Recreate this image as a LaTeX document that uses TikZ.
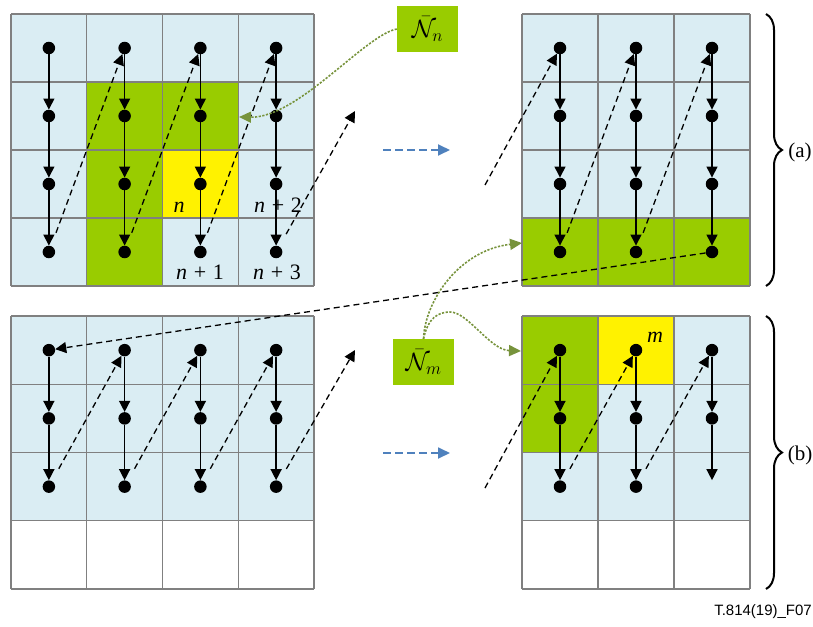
\RequirePackage{fix-cm}
\documentclass[tikz,border=0pt]{standalone}
\usepackage{fontspec}
\setmainfont{Liberation Serif}
\newfontfamily\capfont{Liberation Sans}
\usetikzlibrary{arrows.meta,decorations.pathreplacing}
\definecolor{lblue}{RGB}{218,237,243}
\definecolor{lgreen}{RGB}{153,204,0}
\definecolor{olivegr}{RGB}{119,147,60}
\definecolor{dblue}{RGB}{79,129,189}
\definecolor{gridgray}{RGB}{128,128,128}
\begin{document}
\begin{tikzpicture}[x=1pt,y=-1pt,
  gridline/.style={draw=gridgray,line width=1.3pt},
  dotnode/.style={circle,fill=black,minimum size=12.5pt,inner sep=0pt},
  ghostnode/.style={circle,minimum size=12.5pt,inner sep=0pt},
  solidarr/.style={line width=1.4pt,-{Triangle[width=11pt,length=11pt]}},
  dasharr/.style={line width=1.3pt,dash pattern=on 6pt off 4pt,-{Triangle[width=11pt,length=11pt]}},
  greenarr/.style={draw=olivegr,line width=1.6pt,dash pattern=on 2.2pt off 1.5pt,-{Triangle[width=11pt,length=12pt,fill=olivegr]}},
  bluearr/.style={draw=dblue,line width=1.8pt,dash pattern=on 8pt off 4pt,-{Triangle[width=11pt,length=12pt,fill=dblue]}},
  nbox/.style={fill=lgreen,minimum width=61pt,minimum height=46pt,inner sep=0pt,font=\fontsize{25}{30}\selectfont},
  lbl/.style={font=\fontsize{22}{26}\selectfont,inner sep=0pt},
  side/.style={font=\fontsize{21}{25}\selectfont,inner sep=0pt},
  bracestyle/.style={decorate,decoration={brace,amplitude=16pt},line width=2pt}
]
\useasboundingbox (0,0) rectangle (813,626);

% ---------- top-left grid ----------
\fill[lblue] (11,14) rectangle (314,286);
\fill[lgreen] (86.75,82) rectangle (162.5,286);
\fill[lgreen] (162.5,82) rectangle (238.25,150);
\fill[yellow] (162.5,150) rectangle (238.25,218);
\foreach \i in {0,...,4} \draw[gridline] ({11+75.75*\i},14) -- ({11+75.75*\i},286);
\foreach \j in {0,...,4} \draw[gridline] (11,{14+68*\j}) -- (314,{14+68*\j});

% ---------- top-right grid ----------
\fill[lblue] (522,14) rectangle (750,218);
\fill[lgreen] (522,218) rectangle (750,286);
\foreach \i in {0,...,3} \draw[gridline] ({522+76*\i},14) -- ({522+76*\i},286);
\foreach \j in {0,...,4} \draw[gridline] (522,{14+68*\j}) -- (750,{14+68*\j});

% ---------- bottom-left grid ----------
\fill[lblue] (11,316) rectangle (314,520.75);
\foreach \i in {0,...,4} \draw[gridline] ({11+75.75*\i},316) -- ({11+75.75*\i},589);
\foreach \j in {0,...,4} \draw[gridline] (11,{316+68.25*\j}) -- (314,{316+68.25*\j});

% ---------- bottom-right grid ----------
\fill[lblue] (522,316) rectangle (750,520.75);
\fill[lgreen] (522,316) rectangle (598,452.5);
\fill[yellow] (598,316) rectangle (674,384.25);
\foreach \i in {0,...,3} \draw[gridline] ({522+76*\i},316) -- ({522+76*\i},589);
\foreach \j in {0,...,4} \draw[gridline] (522,{316+68.25*\j}) -- (750,{316+68.25*\j});

% ---------- dots ----------
\foreach \c in {1,...,4} \foreach \r in {1,...,4}
  \node[dotnode] (TL-\c-\r) at ({11+75.75*(\c-0.5)},{14+68*(\r-0.5)}) {};
\foreach \c in {1,...,3} \foreach \r in {1,...,4}
  \node[dotnode] (TR-\c-\r) at ({522+76*(\c-0.5)},{14+68*(\r-0.5)}) {};
\foreach \c in {1,...,4} \foreach \r in {1,...,3}
  \node[dotnode] (BL-\c-\r) at ({11+75.75*(\c-0.5)},{316+68.25*(\r-0.5)}) {};
\foreach \c/\r in {1/1,1/2,1/3,2/1,2/2,2/3,3/1,3/2}
  \node[dotnode] (BR-\c-\r) at ({522+76*(\c-0.5)},{316+68.25*(\r-0.5)}) {};
\node[ghostnode] (BR-3-3) at ({522+76*2.5},{316+68.25*2.5}) {};

% ---------- vertical solid arrows ----------
\foreach \c in {1,...,4} \foreach \r/\s in {1/2,2/3,3/4} \draw[solidarr] (TL-\c-\r) -- (TL-\c-\s);
\foreach \c in {1,...,3} \foreach \r/\s in {1/2,2/3,3/4} \draw[solidarr] (TR-\c-\r) -- (TR-\c-\s);
\foreach \c in {1,...,4} \foreach \r/\s in {1/2,2/3} \draw[solidarr] (BL-\c-\r) -- (BL-\c-\s);
\foreach \c in {1,...,3} \foreach \r/\s in {1/2,2/3} \draw[solidarr] (BR-\c-\r) -- (BR-\c-\s);

% ---------- dashed scan arrows ----------
\foreach \c/\d in {1/2,2/3,3/4} \draw[dasharr,shorten <=14pt] (TL-\c-4) -- (TL-\d-1);
\foreach \c/\d in {1/2,2/3} \draw[dasharr,shorten <=14pt] (TR-\c-4) -- (TR-\d-1);
\foreach \c/\d in {1/2,2/3,3/4} \draw[dasharr,shorten <=14pt] (BL-\c-3) -- (BL-\d-1);
\foreach \c/\d in {1/2,2/3} \draw[dasharr,shorten <=14pt] (BR-\c-3) -- (BR-\d-1);

\coordinate (outA) at (355,111);
\coordinate (inA) at (485,185);
\coordinate (outB) at (355,350);
\coordinate (inB) at (485,488);
\draw[dasharr,shorten <=14pt] (TL-4-4) -- (outA);
\draw[dasharr] (inA) -- (TR-1-1);
\draw[dasharr,shorten <=14pt] (BL-4-3) -- (outB);
\draw[dasharr] (inB) -- (BR-1-1);
\draw[dasharr] (TR-3-4) -- (BL-1-1);

% ---------- blue arrows ----------
\coordinate (bA1) at (383,150); \coordinate (bA2) at (450,150);
\coordinate (bB1) at (383,453); \coordinate (bB2) at (450,453);
\draw[bluearr] (bA1) -- (bA2);
\draw[bluearr] (bB1) -- (bB2);

% ---------- N boxes and green arrows ----------
\node[nbox] (Nn) at (427.5,29) {$\bar{\mathcal{N}}_n$};
\node[nbox] (Nm) at (423.5,362) {$\bar{\mathcal{N}}_m$};
\coordinate (nTgt) at (239,117);
\coordinate (mTgtA) at (522,243);
\coordinate (mTgtB) at (521,351);
\coordinate (mPeak) at (450,312);
\draw[greenarr] (Nn.west) .. controls (365,35) and (298,118) .. (nTgt);
\draw[greenarr] (Nm.north) .. controls (425,300) and (460,250) .. (mTgtA);
\draw[greenarr] (Nm.north) .. controls (428,318) and (438,312) .. (mPeak)
   .. controls (468,312) and (490,350) .. (mTgtB);

% ---------- labels ----------
\node[lbl] (ln) at (179,207) {\textit{n}};
\node[lbl] (ln2) at (278,205) {\textit{n}\hspace{0.3em}+\hspace{0.3em}2};
\node[lbl] (ln1) at (200,272) {\textit{n}\hspace{0.3em}+\hspace{0.3em}1};
\node[lbl] (ln3) at (277,272) {\textit{n}\hspace{0.3em}+\hspace{0.3em}3};
\node[lbl] (lm) at (655,337) {\textit{m}};

% ---------- braces ----------
\draw[bracestyle] (766,14) -- (766,286);
\draw[bracestyle] (766,316) -- (766,589);
\node[side] (la) at (800,152) {(a)};
\node[side] (lb) at (800,455) {(b)};

\node[anchor=east,inner sep=0pt,font=\capfont\fontsize{15}{18}\selectfont] (cap) at (812,612) {T.814(19)\_F07};
\end{tikzpicture}
\end{document}
